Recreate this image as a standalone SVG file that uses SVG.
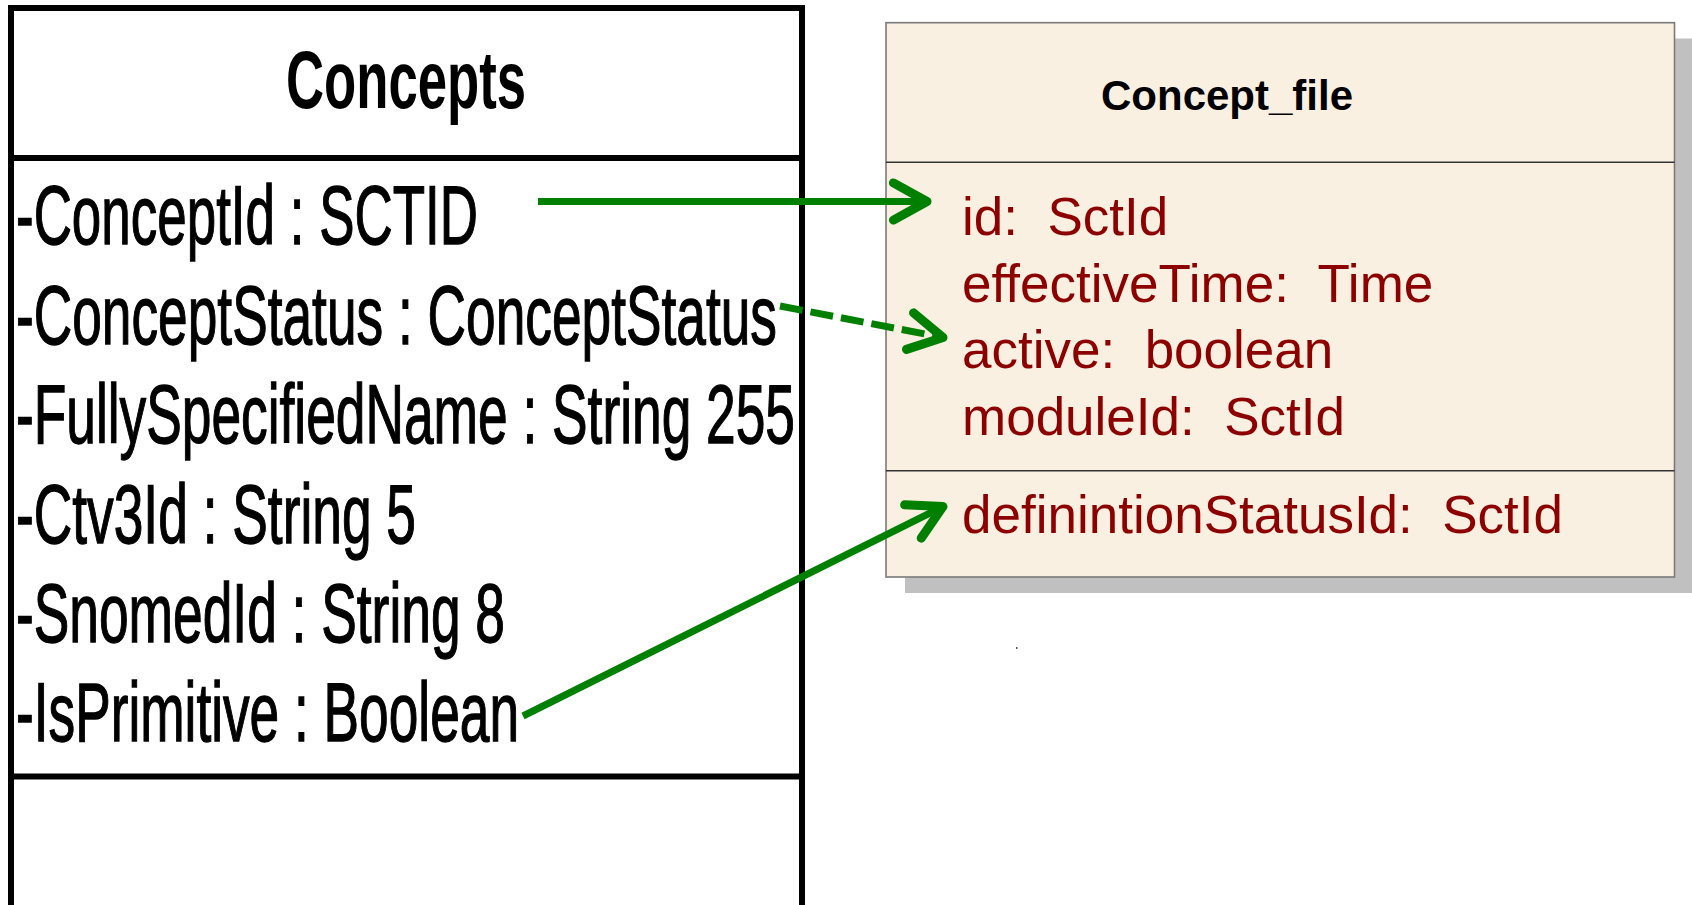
<svg xmlns="http://www.w3.org/2000/svg" width="1692" height="905" viewBox="0 0 1692 905">
<style>
.box{fill:#ffffff;stroke:#000000;stroke-width:6}
.div{stroke:#000000;stroke-width:6}
.attr{font-family:"Liberation Sans Narrow","Liberation Sans",Arial,sans-serif;font-size:84px;fill:#000000;stroke:#000000;stroke-width:1.3}
.title{font-family:"Liberation Sans",Arial,sans-serif;font-weight:bold;fill:#000000}
.cf{fill:#FAF0E2;stroke:#7a7a7a;stroke-width:1.6}
.cfdiv{stroke:#333333;stroke-width:1.4}
.red{font-family:"Liberation Sans",Arial,sans-serif;font-size:53px;fill:#8c0000;white-space:pre}
.conn{fill:none;stroke:#008000;stroke-width:7}
.dash{stroke-dasharray:23 8}
</style>
<defs>
<marker id="arrow" markerUnits="userSpaceOnUse" markerWidth="60" markerHeight="60" viewBox="-40 -25 50 50" refX="0" refY="0" orient="auto">
<path d="M-28,-15.5 L0,0 L-28,15.5" fill="none" stroke="#008000" stroke-width="7.5" stroke-linecap="round" stroke-linejoin="round" stroke-dasharray="none"/>
</marker>
</defs>
<rect width="1692" height="905" fill="#ffffff"/>
<g id="concepts">
<rect class="box" x="11" y="8" width="791" height="910"/>
<line class="div" x1="11" y1="158" x2="802" y2="158"/>
<line class="div" x1="11" y1="776.5" x2="802" y2="776.5"/>
<text class="title" x="286" y="108" font-size="81" textLength="240" lengthAdjust="spacingAndGlyphs">Concepts</text>
<text class="attr" x="16" y="244" textLength="462" lengthAdjust="spacingAndGlyphs">-ConceptId : SCTID</text>
<text class="attr" x="16" y="343.5" textLength="761" lengthAdjust="spacingAndGlyphs">-ConceptStatus : ConceptStatus</text>
<text class="attr" x="16" y="443" textLength="779" lengthAdjust="spacingAndGlyphs">-FullySpecifiedName : String 255</text>
<text class="attr" x="16" y="542.5" textLength="400" lengthAdjust="spacingAndGlyphs">-Ctv3Id : String 5</text>
<text class="attr" x="16" y="642" textLength="489" lengthAdjust="spacingAndGlyphs">-SnomedId : String 8</text>
<text class="attr" x="16" y="741" textLength="503" lengthAdjust="spacingAndGlyphs">-IsPrimitive : Boolean</text>
</g>
<g id="concept_file">
<rect x="905" y="38.5" width="800" height="554.5" fill="#c0c0c0"/>
<rect class="cf" x="886" y="22.7" width="788.5" height="554.3"/>
<line class="cfdiv" x1="886" y1="162.3" x2="1674.5" y2="162.3"/>
<line class="cfdiv" x1="886" y1="470.7" x2="1674.5" y2="470.7"/>
<text class="title" x="1101" y="110" font-size="42">Concept_file</text>
<text class="red" x="962" y="235">id:  SctId</text>
<text class="red" x="962" y="301.5">effectiveTime:  Time</text>
<text class="red" x="962" y="368">active:  boolean</text>
<text class="red" x="962" y="435">moduleId:  SctId</text>
<text class="red" x="962" y="533">definintionStatusId:  SctId</text>
</g>
<g id="connectors">
<path class="conn" d="M538,201.5 L927,201.5" marker-end="url(#arrow)"/>
<path class="conn dash" d="M780,306 L943,337.5" marker-end="url(#arrow)"/>
<path class="conn" d="M523,716 L943,506.5" marker-end="url(#arrow)"/>
</g>
<rect x="1016" y="647" width="1.5" height="2" fill="#555555"/>
</svg>
